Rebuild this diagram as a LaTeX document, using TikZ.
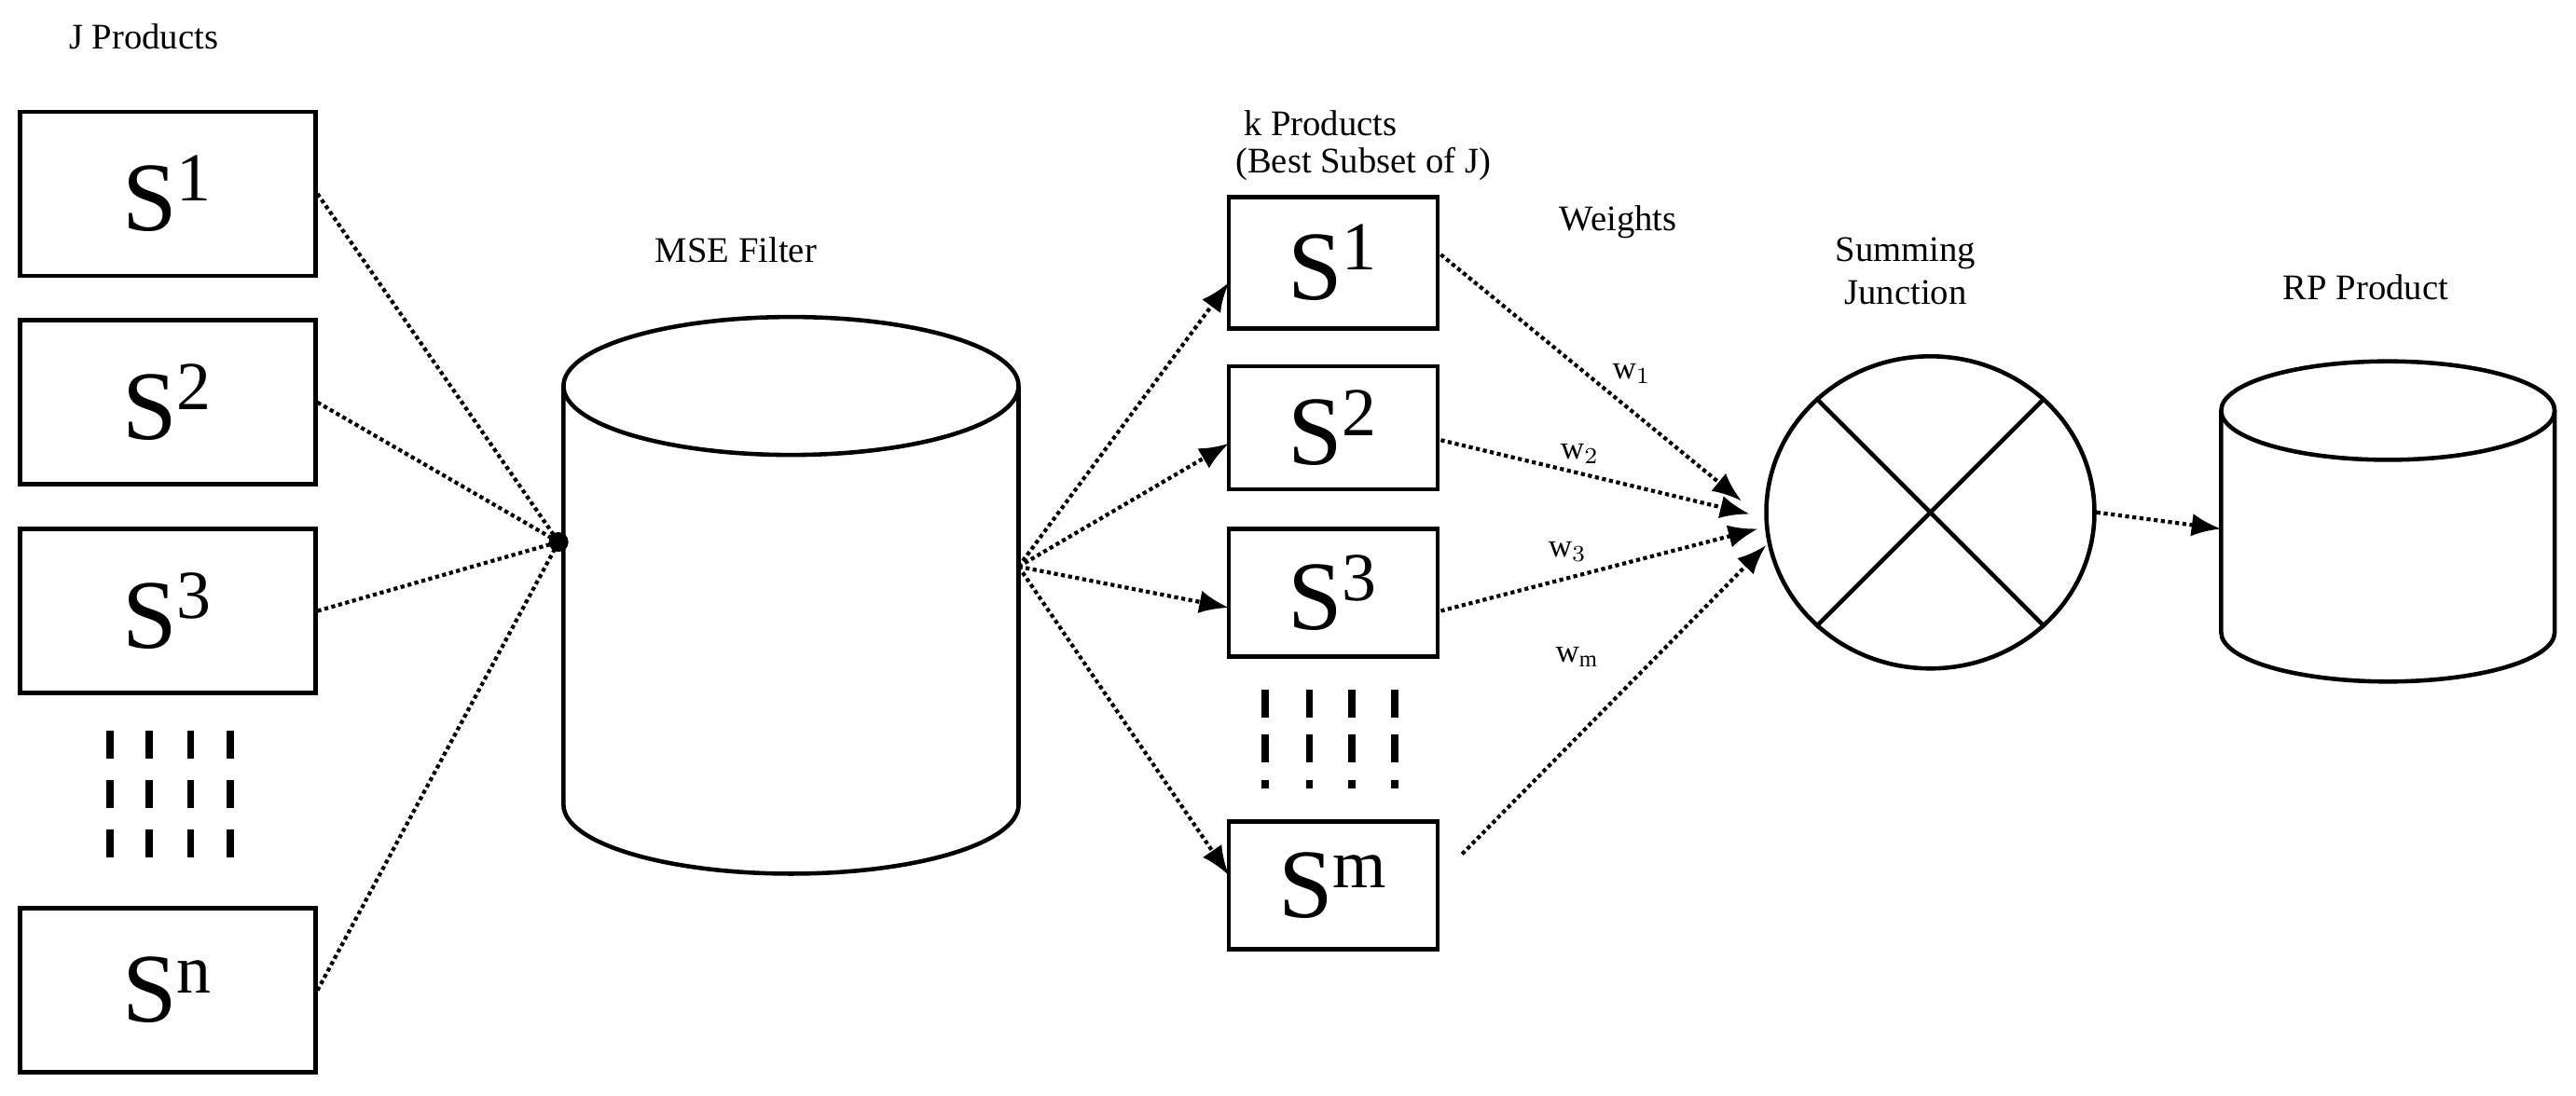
\documentclass[tikz,border=0pt]{standalone}
\usepackage{fontspec}
\setmainfont{Liberation Serif}
\usetikzlibrary{arrows.meta,shapes.geometric}
\begin{document}
\begin{tikzpicture}[x=0.01762cm,y=-0.01762cm,
  box/.style={draw,line width=1.3pt,inner sep=0pt},
  big/.style={font=\fontsize{30}{32}\selectfont},
  lbl/.style={font=\fontsize{11}{13}\selectfont},
  wl/.style={font=\fontsize{10}{12}\selectfont},
  dl/.style={densely dotted,line width=1.2pt},
  ar/.style={dl,-{Latex[length=9pt,width=7pt]}},
  vdash/.style={line width=2.2pt}]
\useasboundingbox (0,0) rectangle (1568,667);
% left boxes
\node[box,minimum width=3.17cm,minimum height=1.76cm,big] (a1) at (102,118) {S$^{\mathrm{1}}$};
\node[box,minimum width=3.17cm,minimum height=1.76cm,big] (a2) at (102,245) {S$^{\mathrm{2}}$};
\node[box,minimum width=3.17cm,minimum height=1.76cm,big] (a3) at (102,372) {S$^{\mathrm{3}}$};
\node[box,minimum width=3.17cm,minimum height=1.76cm,big] (an) at (102,603) {S$^{\mathrm{n}}$};
\node[lbl,anchor=west] (jp) at (35,22) {J Products};
\foreach \x in {67,91,116,140}{\foreach \y in {445,475,505}{\draw[vdash] (\x,\y) -- (\x,\y+17);}}
% MSE cylinder
\coordinate (conv) at (340,330);
\draw[line width=1.3pt] (481.5,235) ellipse [x radius=138.5, y radius=42];
\draw[line width=1.3pt] (343,235) -- (343,490) arc[start angle=180,end angle=360,x radius=138.5,y radius=-42] -- (620,235);
\node[lbl] (mse) at (448,152) {MSE Filter};
\foreach \s in {a1,a2,a3,an}
  \draw[dl] (\s.east) -- (conv);
\fill (conv) circle (6);
\coordinate (fan) at (620,345);
% right boxes
\node[box,minimum width=2.24cm,minimum height=1.41cm,big] (b1) at (811.5,160) {S$^{\mathrm{1}}$};
\node[box,minimum width=2.24cm,minimum height=1.32cm,big] (b2) at (811.5,260.5) {S$^{\mathrm{2}}$};
\node[box,minimum width=2.24cm,minimum height=1.37cm,big] (b3) at (811.5,361) {S$^{\mathrm{3}}$};
\node[box,minimum width=2.24cm,minimum height=1.37cm,big] (bm) at (811.5,539) {S$^{\mathrm{m}}$};
\foreach \x in {770,797,823,849}{\foreach \y in {420,447}{\draw[vdash] (\x,\y) -- (\x,\y+17);}}
\foreach \x in {770,797,823,849}{\draw[vdash] (\x,475) -- (\x,480);}
\node[lbl,anchor=west] (kp) at (750,75) {k Products};
\node[lbl,anchor=west] (bs) at (745,100) {(Best Subset of J)};
\coordinate (i1) at (748,172);
\coordinate (i2) at (748,270);
\coordinate (i3) at (748,370);
\coordinate (im) at (748,533);
\draw[ar] (fan) -- (i1);
\draw[ar] (fan) -- (i2);
\draw[ar] (fan) -- (i3);
\draw[ar] (fan) -- (im);
\node[lbl] (wt) at (985,135) {Weights};
% summing junction
\node[draw,ellipse,line width=1.3pt,minimum width=3.52cm,minimum height=3.35cm] (sj) at (1175,312) {};
\draw[line width=1.3pt] (sj.45) -- (sj.225) (sj.135) -- (sj.315);
\node[lbl,align=center] (sjl) at (1160,165) {Summing\\Junction};
\coordinate (o1) at (877,155);
\coordinate (o2) at (877,268);
\coordinate (o3) at (877,372);
\coordinate (om) at (890,520);
\draw[ar] (o1) -- node[wl,pos=0.55,above right=-2pt] {w$_1$} (1060,305);
\draw[ar] (o2) -- node[wl,pos=0.45,above=-1pt] {w$_2$} (1065,313);
\draw[ar] (o3) -- node[wl,pos=0.4,above=1pt] {w$_3$} (1070,322);
\draw[ar] (om) -- (1075,332);
\node[wl] (wm) at (960,400) {w$_\mathrm{m}$};
% RP cylinder
\coordinate (rpin) at (1352,322);
\draw[ar] (sj.east) -- (rpin);
\draw[line width=1.3pt] (1453.5,250) ellipse [x radius=101.5, y radius=30];
\draw[line width=1.3pt] (1352,250) -- (1352,385) arc[start angle=180,end angle=360,x radius=101.5,y radius=-30] -- (1555,250);
\node[lbl] (rp) at (1440,175) {RP Product};
\end{tikzpicture}
\end{document}
